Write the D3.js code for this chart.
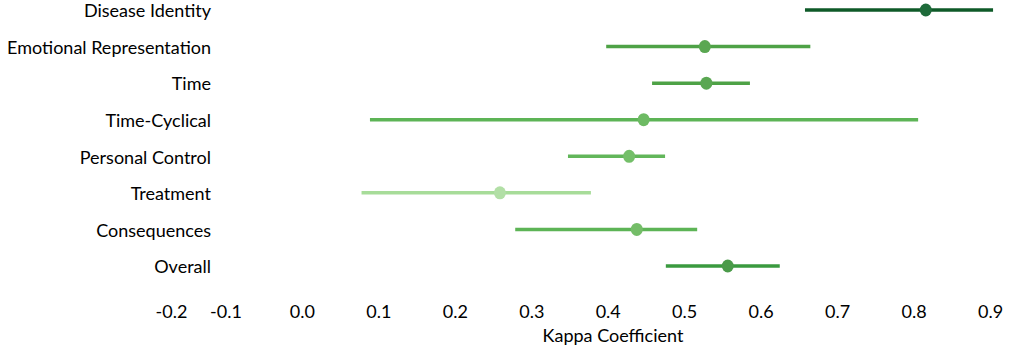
<!DOCTYPE html>
<html>
<head>
<meta charset="utf-8">
<script src="https://cdn.jsdelivr.net/npm/d3@7"></script>
<style>
  body { margin: 0; background: #fff; }
  .chart text { font-family: Lato, "Open Sans", sans-serif; fill: #000; }
</style>
</head>
<body>
<svg class="chart"></svg>
<script>
var chartWidth = 1021;
var chartHeight = 358;

/******** Data ********/
var categories = ["Disease Identity", "Emotional Representation", "Time", "Time-Cyclical",
                  "Personal Control", "Treatment", "Consequences", "Overall"];
var kappa = [0.816, 0.527, 0.529, 0.447, 0.428, 0.259, 0.438, 0.557];
var ciLow = [0.658, 0.398, 0.458, 0.089, 0.348, 0.078, 0.279, 0.476];
var ciHigh = [0.904, 0.665, 0.586, 0.806, 0.475, 0.378, 0.517, 0.625];
var tickVals = [-0.2, -0.1, 0.0, 0.1, 0.2, 0.3, 0.4, 0.5, 0.6, 0.7, 0.8, 0.9];

// colours per row (line, dot)
var lineColors = ["#0e5a28", "#4ea246", "#4ea246", "#5db456", "#62b65a", "#a7dc99", "#5db456", "#3a9a3f"];
var dotColors = ["#1e6b3a", "#5aa752", "#5aa752", "#6dba63", "#74bf69", "#b2dfa6", "#74bd68", "#4b9b4a"];

var rows = categories.map((c, i) => ({
    name: c, k: kappa[i], lo: ciLow[i], hi: ciHigh[i],
    line: lineColors[i], dot: dotColors[i]
}));

/******** Scales ********/
var x = d3.scaleLinear()
    .domain([-0.2, 0.9])
    .range([149, 990]);

var y = d3.scalePoint()
    .domain(categories)
    .range([10, 266]);

var canvas = d3.select(".chart")
    .attr("width", chartWidth)
    .attr("height", chartHeight);

// category labels
var yAxis = d3.axisLeft(y).tickSize(0).tickPadding(0);
var yAxisGroup = canvas.append("g")
    .attr("transform", "translate(211,1)")
    .call(yAxis);
yAxisGroup.select(".domain").remove();
yAxisGroup.selectAll("text")
    .style("font-size", "18px")
    .style("font-family", "Lato, sans-serif");

// x axis labels
var xAxis = d3.axisBottom(x)
    .tickValues(tickVals)
    .tickFormat(d => d.toFixed(1))
    .tickSize(0)
    .tickPadding(9);
var xAxisGroup = canvas.append("g")
    .attr("transform", "translate(0,296)")
    .call(xAxis);
xAxisGroup.select(".domain").remove();
xAxisGroup.selectAll("text")
    .style("font-size", "18px")
    .style("font-family", "Lato, sans-serif");
// first label sits a bit inside, like the original
xAxisGroup.selectAll(".tick text").filter(d => d === -0.2).attr("dx", 22);

canvas.append("text")
    .attr("x", 613)
    .attr("y", 342)
    .style("text-anchor", "middle")
    .style("font-size", "18px")
    .text("Kappa Coefficient");

// error bars
canvas.append("g").selectAll("line")
    .data(rows)
    .enter().append("line")
    .attr("x1", d => x(d.lo))
    .attr("x2", d => x(d.hi))
    .attr("y1", d => y(d.name))
    .attr("y2", d => y(d.name))
    .attr("stroke", d => d.line)
    .attr("stroke-width", 3.5);

// points
canvas.append("g").selectAll("ellipse")
    .data(rows)
    .enter().append("ellipse")
    .attr("cx", d => x(d.k))
    .attr("cy", d => y(d.name))
    .attr("rx", 6)
    .attr("ry", 6.5)
    .attr("fill", d => d.dot);
</script>
</body>
</html>
